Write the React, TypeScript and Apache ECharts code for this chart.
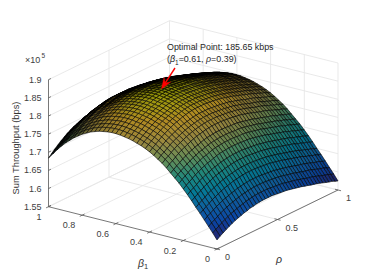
import React, { useEffect, useRef } from "react";
import * as echarts from "echarts";

const betaGrid = [0,.025,.05,.075,.1,.125,.15,.175,.2,.225,.25,.275,.3,.325,.35,.375,.4,.425,.45,.475,.5,.525,.55,.575,.6,.625,.65,.675,.7,.725,.75,.775,.8,.825,.85,.875,.9,.925,.95,.975,1];
const rhoGrid = [0,.025,.05,.075,.1,.125,.15,.175,.2,.225,.25,.275,.3,.325,.35,.375,.4,.425,.45,.475,.5,.525,.55,.575,.6,.625,.65,.675,.7,.725,.75,.775,.8,.825,.85,.875,.9,.925,.95,.975,1];
// Sum throughput in units of 100 bps: one row per beta, one column per rho
const throughput = [
[1575,1581,1586,1591,1596,1600,1604,1607,1610,1613,1615,1618,1619,1621,1622,1623,1623,1623,1623,1622,1621,1620,1619,1618,1616,1614,1612,1610,1608,1605,1603,1600,1598,1596,1593,1590,1587,1584,1582,1578,1575],
[1591,1597,1602,1607,1612,1616,1620,1623,1626,1629,1631,1634,1635,1637,1638,1639,1639,1639,1639,1638,1637,1636,1635,1634,1632,1630,1628,1626,1624,1621,1619,1616,1614,1612,1609,1606,1603,1600,1598,1594,1591],
[1606,1612,1617,1622,1627,1631,1635,1638,1641,1644,1646,1649,1650,1652,1653,1654,1654,1654,1654,1653,1652,1651,1650,1649,1647,1645,1643,1641,1639,1636,1634,1631,1629,1627,1624,1621,1618,1615,1613,1609,1606],
[1621,1627,1632,1637,1642,1646,1650,1653,1656,1659,1661,1664,1665,1667,1668,1669,1669,1669,1669,1668,1667,1666,1665,1664,1662,1660,1658,1656,1654,1651,1649,1646,1644,1642,1639,1636,1633,1630,1628,1624,1621],
[1636,1642,1647,1652,1658,1662,1666,1670,1673,1676,1678,1681,1682,1684,1685,1686,1686,1686,1686,1685,1684,1683,1682,1681,1679,1677,1675,1673,1670,1668,1665,1663,1660,1658,1655,1651,1649,1645,1643,1639,1636],
[1650,1656,1661,1666,1672,1676,1680,1684,1687,1690,1692,1695,1696,1698,1699,1700,1700,1700,1700,1699,1698,1697,1696,1695,1693,1691,1689,1687,1684,1682,1679,1677,1674,1672,1669,1665,1663,1659,1657,1653,1650],
[1665,1671,1676,1681,1687,1691,1695,1699,1702,1705,1707,1710,1711,1713,1714,1715,1715,1715,1715,1714,1713,1712,1711,1710,1708,1706,1704,1702,1699,1697,1694,1692,1689,1687,1684,1680,1678,1674,1672,1668,1665],
[1679,1685,1690,1695,1701,1705,1709,1713,1716,1719,1721,1724,1725,1727,1728,1729,1729,1729,1729,1728,1727,1726,1725,1724,1722,1720,1718,1716,1713,1711,1708,1706,1703,1701,1698,1694,1692,1688,1686,1682,1679],
[1692,1698,1704,1709,1715,1719,1724,1727,1731,1733,1736,1739,1741,1742,1743,1744,1744,1744,1744,1743,1742,1742,1741,1739,1737,1735,1733,1731,1728,1725,1723,1720,1717,1715,1712,1708,1706,1702,1699,1696,1692],
[1705,1711,1717,1722,1728,1732,1737,1740,1744,1746,1749,1752,1754,1755,1756,1757,1757,1757,1757,1756,1755,1755,1754,1752,1750,1748,1746,1744,1741,1738,1736,1733,1730,1728,1725,1721,1719,1715,1712,1709,1705],
[1716,1722,1728,1733,1739,1743,1748,1751,1755,1757,1760,1763,1765,1766,1767,1768,1768,1768,1768,1767,1766,1766,1765,1763,1761,1759,1757,1755,1752,1749,1747,1744,1741,1739,1736,1732,1730,1726,1723,1720,1716],
[1727,1733,1739,1744,1750,1754,1759,1762,1766,1768,1771,1774,1776,1777,1778,1779,1779,1779,1779,1778,1777,1777,1776,1774,1772,1770,1768,1766,1763,1760,1758,1755,1752,1750,1747,1743,1741,1737,1734,1731,1727],
[1738,1745,1750,1756,1762,1767,1771,1775,1779,1782,1785,1787,1789,1791,1792,1793,1793,1793,1793,1792,1791,1790,1789,1787,1786,1784,1781,1779,1776,1773,1770,1767,1765,1762,1759,1755,1752,1748,1746,1742,1738],
[1748,1755,1760,1766,1772,1777,1781,1785,1789,1792,1795,1797,1799,1801,1802,1803,1803,1803,1803,1802,1801,1800,1799,1797,1796,1794,1791,1789,1786,1783,1780,1777,1775,1772,1769,1765,1762,1758,1756,1752,1748],
[1756,1763,1768,1774,1780,1785,1789,1793,1797,1800,1803,1805,1807,1809,1810,1811,1811,1811,1811,1810,1809,1808,1807,1805,1804,1802,1799,1797,1794,1791,1788,1785,1783,1780,1777,1773,1770,1766,1764,1760,1756],
[1764,1771,1776,1782,1788,1793,1797,1801,1805,1808,1811,1813,1815,1817,1818,1819,1819,1819,1819,1818,1817,1816,1815,1813,1812,1810,1807,1805,1802,1799,1796,1793,1791,1788,1785,1781,1778,1774,1772,1768,1764],
[1771,1778,1784,1790,1796,1801,1806,1810,1814,1817,1820,1823,1825,1827,1828,1829,1829,1829,1829,1828,1827,1826,1825,1823,1821,1819,1816,1814,1811,1808,1805,1802,1799,1796,1793,1789,1786,1782,1779,1775,1771],
[1777,1784,1790,1796,1802,1807,1812,1816,1820,1823,1826,1829,1831,1833,1834,1835,1835,1835,1835,1834,1833,1832,1831,1829,1827,1825,1822,1820,1817,1814,1811,1808,1805,1802,1799,1795,1792,1788,1785,1781,1777],
[1782,1789,1795,1801,1807,1812,1817,1821,1825,1828,1831,1834,1836,1838,1839,1840,1840,1840,1840,1839,1838,1837,1836,1834,1832,1830,1827,1825,1822,1819,1816,1813,1810,1807,1804,1800,1797,1793,1790,1786,1782],
[1786,1793,1799,1805,1811,1816,1821,1825,1829,1832,1835,1838,1840,1842,1843,1844,1844,1844,1844,1843,1842,1841,1840,1838,1836,1834,1831,1829,1826,1823,1820,1817,1814,1811,1808,1804,1801,1797,1794,1790,1786],
[1790,1797,1803,1809,1815,1820,1825,1829,1833,1836,1839,1842,1844,1846,1847,1848,1848,1848,1848,1847,1846,1845,1844,1842,1840,1838,1835,1833,1830,1827,1824,1821,1818,1815,1812,1808,1805,1801,1798,1794,1790],
[1793,1800,1806,1812,1818,1823,1828,1832,1836,1839,1842,1845,1847,1849,1850,1851,1851,1851,1851,1850,1849,1848,1847,1845,1843,1841,1838,1836,1833,1830,1827,1824,1821,1818,1815,1811,1808,1804,1801,1797,1793],
[1795,1802,1808,1814,1820,1825,1830,1834,1838,1841,1844,1847,1849,1851,1852,1853,1853,1853,1853,1852,1851,1850,1849,1847,1845,1843,1840,1838,1835,1832,1829,1826,1823,1820,1817,1813,1810,1806,1803,1799,1795],
[1797,1804,1810,1816,1822,1827,1832,1836,1840,1843,1846,1849,1851,1853,1854,1855,1855,1855,1855,1854,1853,1852,1851,1849,1847,1845,1842,1840,1837,1834,1831,1828,1825,1822,1819,1815,1812,1808,1805,1801,1797],
[1798,1805,1811,1817,1823,1828,1833,1837,1841,1844,1847,1850,1852,1854,1855,1856,1856,1856,1856,1855,1854,1853,1852,1850,1848,1846,1843,1841,1838,1835,1832,1829,1826,1823,1820,1816,1813,1809,1806,1802,1798],
[1798,1805,1811,1817,1823,1828,1833,1837,1841,1844,1847,1850,1852,1854,1855,1856,1856,1856,1856,1855,1854,1853,1852,1850,1848,1846,1843,1841,1838,1835,1832,1829,1826,1823,1820,1816,1813,1809,1806,1802,1798],
[1797,1804,1810,1816,1822,1827,1832,1836,1840,1843,1846,1849,1851,1853,1854,1855,1855,1855,1855,1854,1853,1852,1851,1849,1847,1845,1842,1840,1837,1834,1831,1828,1825,1822,1819,1815,1812,1808,1805,1801,1797],
[1795,1802,1808,1814,1820,1825,1830,1834,1838,1841,1844,1847,1849,1851,1852,1853,1853,1853,1853,1852,1851,1850,1849,1847,1845,1843,1840,1838,1835,1832,1829,1826,1823,1820,1817,1813,1810,1806,1803,1799,1795],
[1793,1800,1806,1812,1818,1823,1828,1832,1836,1839,1842,1845,1847,1849,1850,1851,1851,1851,1851,1850,1849,1848,1847,1845,1843,1841,1838,1836,1833,1830,1827,1824,1821,1818,1815,1811,1808,1804,1801,1797,1793],
[1789,1796,1802,1808,1814,1819,1824,1828,1832,1835,1838,1841,1843,1845,1846,1847,1847,1847,1847,1846,1845,1844,1843,1841,1839,1837,1834,1832,1829,1826,1823,1820,1817,1814,1811,1807,1804,1800,1797,1793,1789],
[1785,1792,1798,1804,1810,1815,1820,1824,1828,1831,1834,1837,1839,1841,1842,1843,1843,1843,1843,1842,1841,1840,1839,1837,1835,1833,1830,1828,1825,1822,1819,1816,1813,1810,1807,1803,1800,1796,1793,1789,1785],
[1779,1786,1792,1798,1804,1809,1814,1818,1822,1825,1828,1831,1833,1835,1836,1837,1837,1837,1837,1836,1835,1834,1833,1831,1829,1827,1824,1822,1819,1816,1813,1810,1807,1804,1801,1797,1794,1790,1787,1783,1779],
[1773,1780,1786,1792,1798,1803,1808,1812,1816,1819,1822,1825,1827,1829,1830,1831,1831,1831,1831,1830,1829,1828,1827,1825,1823,1821,1818,1816,1813,1810,1807,1804,1801,1798,1795,1791,1788,1784,1781,1777,1773],
[1765,1772,1778,1784,1790,1795,1800,1804,1808,1811,1814,1817,1819,1821,1822,1823,1823,1823,1823,1822,1821,1820,1819,1817,1815,1813,1810,1808,1805,1802,1799,1796,1793,1790,1787,1783,1780,1776,1773,1769,1765],
[1757,1764,1771,1777,1783,1789,1794,1798,1802,1805,1808,1812,1814,1816,1817,1818,1818,1818,1818,1817,1816,1815,1814,1812,1810,1807,1804,1802,1799,1796,1793,1790,1786,1783,1780,1776,1773,1769,1765,1761,1757],
[1747,1754,1761,1767,1773,1779,1784,1788,1792,1795,1798,1802,1804,1806,1807,1808,1808,1808,1808,1807,1806,1805,1804,1802,1800,1797,1794,1792,1789,1786,1783,1780,1776,1773,1770,1766,1763,1759,1755,1751,1747],
[1737,1745,1751,1758,1765,1770,1776,1780,1784,1788,1791,1794,1796,1799,1800,1801,1801,1801,1801,1800,1799,1798,1796,1794,1792,1790,1787,1784,1781,1778,1774,1771,1768,1765,1761,1757,1754,1749,1746,1741,1737],
[1725,1733,1739,1746,1753,1758,1764,1768,1772,1776,1779,1782,1784,1787,1788,1789,1789,1789,1789,1788,1787,1786,1784,1782,1780,1778,1775,1772,1769,1766,1762,1759,1756,1753,1749,1745,1742,1737,1734,1729,1725],
[1712,1720,1727,1734,1741,1747,1752,1757,1761,1765,1768,1772,1774,1776,1778,1779,1779,1779,1779,1778,1776,1775,1774,1772,1770,1767,1764,1761,1758,1755,1751,1748,1744,1741,1737,1733,1729,1725,1721,1717,1712],
[1698,1706,1713,1720,1727,1733,1738,1743,1747,1751,1754,1758,1760,1762,1764,1765,1765,1765,1765,1764,1762,1761,1760,1758,1756,1753,1750,1747,1744,1741,1737,1734,1730,1727,1723,1719,1715,1711,1707,1703,1698],
[1684,1692,1700,1707,1714,1720,1726,1731,1736,1739,1743,1746,1749,1751,1752,1754,1754,1754,1754,1752,1751,1750,1749,1746,1744,1742,1738,1736,1732,1728,1725,1721,1718,1714,1710,1706,1702,1697,1694,1689,1684],
];
const throughputUnit = 100;
const zTicks = [155000, 160000, 165000, 170000, 175000, 180000, 185000, 190000];
const zTickLabels = ["1.55", "1.6", "1.65", "1.7", "1.75", "1.8", "1.85", "1.9"];
const betaTicks = [1, 0.8, 0.6, 0.4, 0.2, 0];
const betaTickLabels = ["1", "0.8", "0.6", "0.4", "0.2", "0"];
const rhoTicks = [0, 0.5, 1];
const rhoTickLabels = ["0", "0.5", "1"];
const optimum = { beta: 0.61, rho: 0.39, z: 185650 };
const parula = ["#352a87", "#0f5cdd", "#1481d6", "#06a4ca", "#2eb7a4", "#87bf77", "#d1bb59", "#fec832", "#f9fb0e"];

const Z_MIN = 155000, Z_MAX = 190000;
const A = [48.5, 206.7], B = [217, 249], C = [338, 190], H = 127;
const project = (beta: number, rho: number, z: number) => [
  A[0] + (1 - beta) * (B[0] - A[0]) + rho * (C[0] - B[0]),
  A[1] + (1 - beta) * (B[1] - A[1]) + rho * (C[1] - B[1]) - ((z - Z_MIN) / (Z_MAX - Z_MIN)) * H,
];
const FONT = "'Liberation Sans', Arial, sans-serif";
const TICK = "#404040";
// The reference's mesh is much finer than one pixel allows; this darkens each
// cell by how tightly its edges crowd together on screen.
const MESH_DENSITY = 2.5, MESH_WIDTH = 0.3;

function buildOption() {
  const allZ = throughput.flat();
  const cMin = Math.min(...allZ), cMax = Math.max(...allZ);
  const cells: number[][] = [];
  for (let i = betaGrid.length - 2; i >= 0; i--) {
    for (let j = rhoGrid.length - 2; j >= 0; j--) {
      cells.push([betaGrid[i], betaGrid[i + 1], rhoGrid[j], rhoGrid[j + 1],
        throughput[i][j] * throughputUnit, throughput[i][j + 1] * throughputUnit,
        throughput[i + 1][j] * throughputUnit, throughput[i + 1][j + 1] * throughputUnit,
        (throughput[i][j] + throughput[i][j + 1] + throughput[i + 1][j] + throughput[i + 1][j + 1]) / 4]);
    }
  }
  const segs: number[][] = [];
  zTicks.forEach((z) => {
    segs.push([1, 0, z, 1, 1, z, 0]);
    segs.push([1, 1, z, 0, 1, z, 0]);
  });
  [0.5, 1].forEach((r) => { segs.push([1, r, Z_MIN, 1, r, Z_MAX, 0]); segs.push([1, r, Z_MIN, 0, r, Z_MIN, 0]); });
  [0.8, 0.6, 0.4, 0.2, 0].forEach((b) => { segs.push([b, 1, Z_MIN, b, 1, Z_MAX, 0]); segs.push([b, 0, Z_MIN, b, 1, Z_MIN, 0]); });
  segs.push([1, 0, Z_MIN, 1, 1, Z_MIN, 0]);
  segs.push([1, 0, Z_MIN, 1, 0, Z_MAX, 1]);
  segs.push([1, 0, Z_MIN, 0, 0, Z_MIN, 1]);
  segs.push([0, 0, Z_MIN, 0, 1, Z_MIN, 1]);
  const tickDz = 0.02, tickDb = 0.018;
  zTicks.forEach((z) => segs.push([1, 0, z, 1, tickDz, z, 1]));
  betaTicks.forEach((b) => segs.push([b, 0, Z_MIN, b, tickDz, Z_MIN, 1]));
  betaTicks.forEach((b) => segs.push([b, 0, Z_MIN, b, -tickDz, Z_MIN, 1]));
  rhoTicks.forEach((r) => segs.push([0, r, Z_MIN, tickDb, r, Z_MIN, 1]));
  rhoTicks.forEach((r) => segs.push([0, r, Z_MIN, -tickDb, r, Z_MIN, 1]));

  const labels: any[] = [];
  const txt = (x: number, y: number, text: string, align: string, size = 9, fill = TICK) => ({
    type: "text", silent: true, z: 10,
    style: { x, y, text, fill, fontSize: size, fontFamily: FONT, align, verticalAlign: "middle" },
  });
  zTicks.forEach((z, k) => { const p = project(1, 0, z); labels.push(txt(p[0] - 7, p[1], zTickLabels[k], "right")); });
  betaTicks.forEach((b, k) => { const p = project(b, 0, Z_MIN); labels.push(txt(p[0] - 7, p[1] + 10, betaTickLabels[k], "right")); });
  rhoTicks.forEach((r, k) => { const p = project(0, r, Z_MIN); labels.push(txt(p[0] + 8, p[1] + 8, rhoTickLabels[k], "left")); });
  labels.push(txt(25, 60, "×10", "left", 9));
  labels.push(txt(41.5, 55.5, "5", "left", 6.5));
  labels.push({
    type: "text", silent: true, z: 10, x: 16, y: 148, rotation: Math.PI / 2,
    style: { x: 0, y: 0, text: "Sum Throughput (bps)", fill: "#333333", fontSize: 9.3, fontFamily: FONT, align: "center", verticalAlign: "middle" },
  });
  const rich = {
    n: { fontSize: 8.9, fontFamily: FONT, fill: "#262626", lineHeight: 14 },
    g: { fontSize: 8.9, fontFamily: FONT, fontStyle: "italic", fill: "#262626", lineHeight: 14 },
    s: { fontSize: 6.5, fontFamily: FONT, fill: "#262626", lineHeight: 14, verticalAlign: "bottom" },
    G: { fontSize: 10.5, fontFamily: FONT, fontStyle: "italic", fill: "#333333", lineHeight: 14 },
    S: { fontSize: 7.5, fontFamily: FONT, fill: "#333333", lineHeight: 14, verticalAlign: "bottom" },
  };
  labels.push(txt(167, 47, "Optimal Point: 185.65 kbps", "left", 8.9, "#262626"));
  labels.push({ type: "text", silent: true, z: 10, style: { x: 167, y: 59, text: "{n|(}{g|β}{s|1}{n|=0.61, }{g|ρ}{n|=0.39)}", rich, align: "left", verticalAlign: "middle" } });
  labels.push({ type: "text", silent: true, z: 10, style: { x: 143, y: 263, text: "{G|β}{S|1}", rich, align: "center", verticalAlign: "middle" } });
  labels.push({ type: "text", silent: true, z: 10, style: { x: 279, y: 259, text: "{G|ρ}", rich, align: "center", verticalAlign: "middle" } });

  const tip = project(optimum.beta, optimum.rho, optimum.z);
  const tail = [175, 68];
  const len = Math.hypot(tail[0] - tip[0], tail[1] - tip[1]);
  const d = [(tail[0] - tip[0]) / len, (tail[1] - tip[1]) / len];
  const n = [-d[1], d[0]];
  const at = (along: number, side: number) => [tip[0] + d[0] * along + n[0] * side, tip[1] + d[1] * along + n[1] * side];
  labels.push({ type: "line", silent: true, z: 9, shape: { x1: tail[0], y1: tail[1], x2: at(6, 0)[0], y2: at(6, 0)[1] }, style: { stroke: "#ff0000", lineWidth: 1.4 } });
  labels.push({ type: "polygon", silent: true, z: 9, shape: { points: [tip, at(11, 4), at(7, 0), at(11, -4)] }, style: { fill: "#ff0000", stroke: "#ff0000", lineWidth: 0.4 } });

  return {
    animation: false,
    backgroundColor: "#ffffff",
    series: [
      {
        type: "custom", coordinateSystem: "none", silent: true, z: 1, clip: false, data: segs,
        renderItem: (_: any, api: any) => {
          const p = project(api.value(0), api.value(1), api.value(2));
          const q = project(api.value(3), api.value(4), api.value(5));
          const axis = api.value(6) === 1;
          return { type: "line", shape: { x1: p[0], y1: p[1], x2: q[0], y2: q[1] },
            style: { stroke: axis ? "#555555" : "#e6e6e6", lineWidth: axis ? 0.8 : 0.9 } };
        },
      },
      {
        type: "custom", coordinateSystem: "none", silent: true, z: 2, clip: false, data: cells,
        renderItem: (_: any, api: any) => {
          const b0 = api.value(0), b1 = api.value(1), r0 = api.value(2), r1 = api.value(3);
          const pts = [project(b0, r0, api.value(4)), project(b0, r1, api.value(5)), project(b1, r1, api.value(7)), project(b1, r0, api.value(6))];
          const t = (api.value(8) - cMin) / (cMax - cMin);
          const e1 = [pts[1][0] - pts[0][0], pts[1][1] - pts[0][1]];
          const e2 = [pts[3][0] - pts[0][0], pts[3][1] - pts[0][1]];
          const area = Math.abs(e1[0] * e2[1] - e1[1] * e2[0]) + 1e-6;
          const s1 = area / Math.hypot(e1[0], e1[1]) / MESH_DENSITY;
          const s2 = area / Math.hypot(e2[0], e2[1]) / MESH_DENSITY;
          const cover = 1 - (1 - Math.min(1, MESH_WIDTH / s1)) * (1 - Math.min(1, MESH_WIDTH / s2));
          const base = echarts.color.lerp(Math.max(0, Math.min(1, t)), parula);
          const fill = echarts.color.lerp(cover, [base, "#000000"]);
          return { type: "polygon", shape: { points: pts },
            style: { fill, stroke: "#000000", lineWidth: 0.7, strokeOpacity: 0.85 } };
        },
      },
    ],
    graphic: { elements: labels },
  };
}

export default function App() {
  const ref = useRef<HTMLDivElement>(null);
  useEffect(() => {
    const chart = echarts.init(ref.current!, undefined, { renderer: "svg" });
    chart.setOption(buildOption() as any);
    return () => chart.dispose();
  }, []);
  return <div ref={ref} style={{ position: "fixed", left: 0, top: 0, width: 374, height: 280, background: "#fff" }} />;
}
